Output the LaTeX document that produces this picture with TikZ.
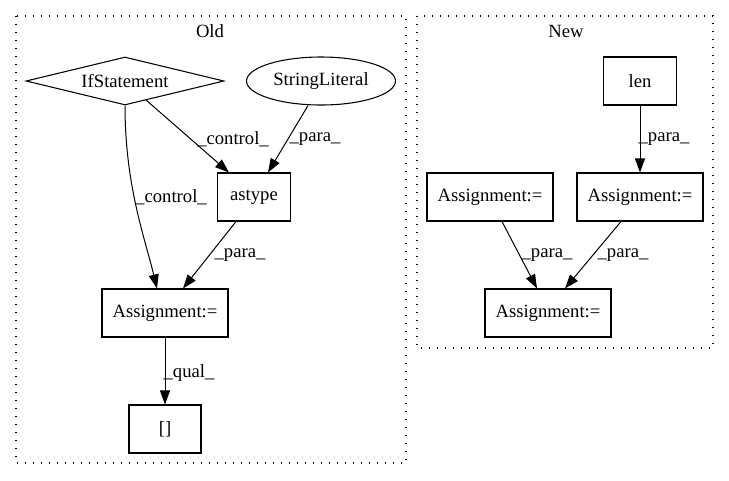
\documentclass[tikz,border=0pt]{standalone}
\usepackage{fontspec}
\setmainfont{Liberation Serif}
\usetikzlibrary{shapes.geometric,arrows.meta,calc}
\begin{document}
\begin{tikzpicture}[x=0.75pt,y=-0.75pt,
  every node/.style={font=\fontsize{14pt}{16pt}\selectfont},
  box/.style={draw,line width=0.8pt,rectangle,inner sep=0pt,minimum height=36pt},
  cluster/.style={draw,line width=0.9pt,dash pattern=on 0.9pt off 5.1pt},
  edge/.style={line width=0.75pt,-{Triangle[length=10.5pt,width=7.5pt]}},
  lbl/.style={inner sep=0pt}]
\useasboundingbox (0,0) rectangle (729,480);
% clusters
\draw[cluster] (16,16) rectangle (406,463);
\draw[cluster] (417,16) rectangle (713,348);
\node (told) at (210,31) {Old};
\node (tnew) at (566,31) {New};
% Old nodes
\node[draw,line width=0.8pt,diamond,shape aspect=4.125,inner sep=0pt,minimum width=148.5pt,minimum height=36pt] (ifs) at (125,81) {IfStatement};
\node[draw,line width=0.8pt,ellipse,inner sep=0pt,minimum width=111.75pt,minimum height=36pt] (str) at (321,81) {StringLiteral};
\node[box,minimum width=54.75pt] (ast) at (254,197) {astype};
\node[box,minimum width=94.5pt] (asg) at (165,313) {Assignment:=};
\node[box,minimum width=54pt] (br) at (165,429) {[]};
% New nodes
\node[box,minimum width=54.75pt] (len) at (640,81) {len};
\node[box,minimum width=94.5pt] (nl) at (490,197) {Assignment:=};
\node[box,minimum width=94.5pt] (nr) at (640,197) {Assignment:=};
\node[box,minimum width=94.5pt] (nb) at (548,313) {Assignment:=};
% Old edges
\draw[edge] ($(ifs.center)+(21,19)$) -- ($(ast.north)+(-25,0)$);
\draw[edge] ($(str.south)+(-13,0)$) -- ($(ast.north)+(14,0)$);
\draw[edge] (ifs.south) .. controls ($(ifs.south)+(0,80)$) and ($(asg.north)+(-20,-50)$) .. ($(asg.north)+(-8,0)$);
\draw[edge] ($(ast.south)+(-18,0)$) -- ($(asg.north)+(18,0)$);
\draw[edge] (asg.south) -- (br.north);
% New edges
\draw[edge] (len.south) -- (nr.north);
\draw[edge] ($(nl.south)+(12,0)$) -- ($(nb.north)+(-11,0)$);
\draw[edge] ($(nr.south)+(-19,0)$) -- ($(nb.north)+(17,0)$);
% labels
\node[lbl] (l1) at (233,139) {\_control\_};
\node[lbl] (l2) at (315,139) {\_para\_};
\node[lbl] (l3) at (171,197) {\_control\_};
\node[lbl] (l4) at (240,255) {\_para\_};
\node[lbl] (l5) at (189,373) {\_qual\_};
\node[lbl] (l6) at (664,139) {\_para\_};
\node[lbl] (l7) at (547,255) {\_para\_};
\node[lbl] (l8) at (623,255) {\_para\_};
\end{tikzpicture}
\end{document}
